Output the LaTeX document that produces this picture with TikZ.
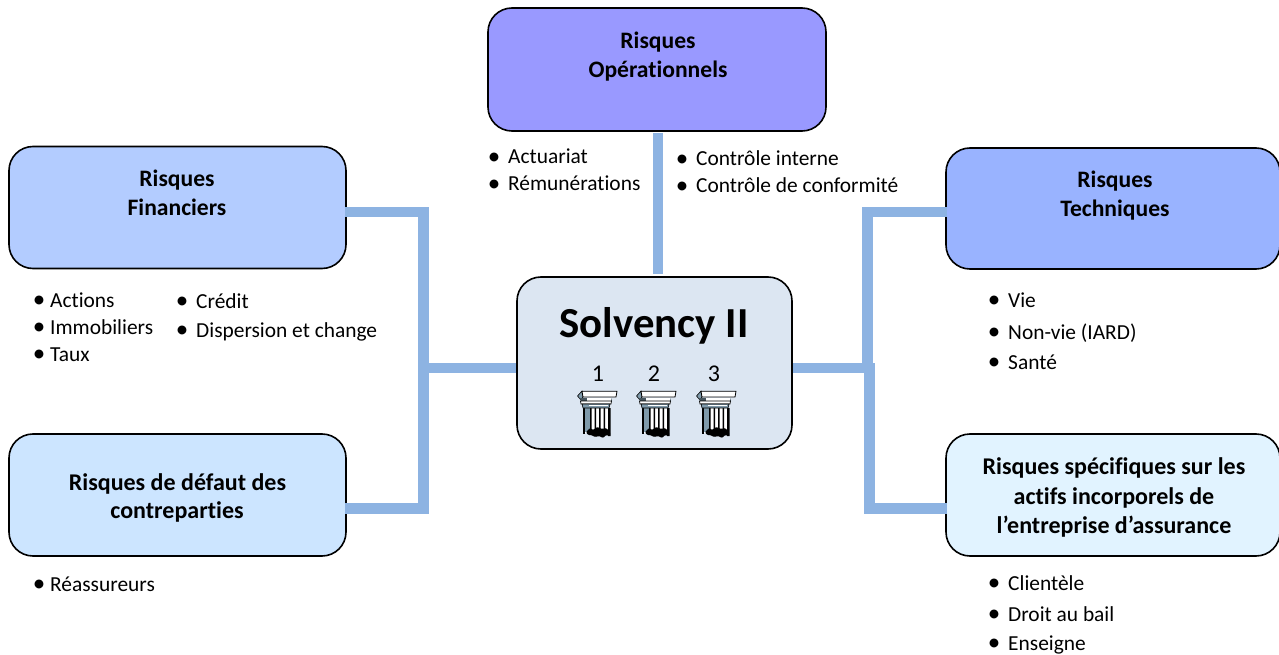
\documentclass[tikz,border=0pt]{standalone}
\usepackage{fontspec}
\setmainfont{Carlito}[Ligatures=NoCommon]
\definecolor{conn}{HTML}{8DB3E2}
\definecolor{cop}{HTML}{9999FF}
\definecolor{cfin}{HTML}{B3CCFF}
\definecolor{cdef}{HTML}{CCE5FF}
\definecolor{ctec}{HTML}{99B3FF}
\definecolor{cspe}{HTML}{E1F3FF}
\definecolor{csol}{HTML}{DCE6F2}
\definecolor{stone}{HTML}{7F9AAB}
\tikzset{
  x=1bp,y=-1bp,
  riskbox/.style={draw=black,line width=1.6bp,rounded corners=24bp,inner sep=0pt,outer sep=0pt},
  link/.style={draw=conn,line width=10.5bp,line join=miter},
  title/.style={anchor=base,font=\fontsize{23.6bp}{28bp}\selectfont\bfseries,inner sep=0pt},
  longtitle/.style={anchor=base,font=\fontsize{24bp}{28bp}\selectfont\bfseries,inner sep=0pt},
  itemtext/.style={anchor=base west,font=\fontsize{21.4bp}{26bp}\selectfont,inner sep=0pt},
  dot/.style={anchor=center,inner sep=0pt},
  num/.style={anchor=base,font=\fontsize{24bp}{28bp}\selectfont,inner sep=0pt},
  pillar/.pic={
    % shaft
    \fill[white] (6,17) rectangle (33,42);
    \fill[stone] (8,17) rectangle (13,41);
    \fill[black] (5.5,17) rectangle (8,43);
    \fill[black] (13,17) rectangle (14.5,40) (17.5,17) rectangle (19,40) (22,17) rectangle (23.5,40) (26.5,17) rectangle (28,40) (31,17) rectangle (33.5,45);
    % black base blob
    \fill[black,rounded corners=1bp] (9,41) -- (13,37) -- (16,39) -- (20,36) -- (25,38) -- (29,37) -- (33,41) -- (33,45) -- (29,44) -- (26,47) -- (22,45) -- (18,46) -- (14,44) -- (11,44) -- cycle;
    % capital
    \fill[stone,draw=black,line width=.6bp] (0.5,5) -- (5,0) -- (6,6) -- (4,9) -- cycle;
    \fill[white,draw=black,line width=.8bp] (5,0.3) -- (40,0.3) -- (39,6) -- (6,6) -- cycle;
    \fill[black!45!stone] (3,7) -- (34,7) -- (35,10) -- (4,10) -- cycle;
    \fill[white] (10,7) rectangle (34,9.5);
    \fill[white,draw=black,line width=.7bp] (3.5,10) -- (34.5,10) -- (34,13) -- (4,13) -- cycle;
    \fill[stone,draw=black,line width=.6bp] (5,13) -- (33,13) -- (32,17) -- (6,17) -- cycle;
    \fill[white] (12,13.6) rectangle (31,15);
  }
}
\newcommand{\bitem}[5]{% name, bullet x, text x, baseline, text
  \node[dot] (#1b) at (#2,#4-5.5) {\fontsize{25bp}{25bp}\selectfont •};
  \node[itemtext] (#1) at (#3,#4) {#5};
}
\begin{document}
\begin{tikzpicture}
\useasboundingbox (0,0) rectangle (1279,655);
\node[riskbox,fill=cop,minimum width=338bp,minimum height=123bp] (op) at (657,69.5) {};
\node[riskbox,fill=cfin,minimum width=337bp,minimum height=122bp] (fin) at (177.5,207.5) {};
\node[riskbox,fill=cdef,minimum width=337bp,minimum height=122bp] (def) at (177.5,495) {};
\node[riskbox,fill=ctec,minimum width=334bp,minimum height=121bp] (tec) at (1113,208.5) {};
\node[riskbox,fill=cspe,minimum width=334bp,minimum height=122bp] (spe) at (1113,495) {};
\node[riskbox,fill=csol,minimum width=275bp,minimum height=172bp] (sol) at (654.5,363) {};
\coordinate (finp) at ([xshift=-1bp]fin.east |- 0,212);
\coordinate (defp) at ([xshift=-1bp]def.east |- 0,508.5);
\coordinate (tecp) at ([xshift=.8bp]tec.west |- 0,212);
\coordinate (spep) at ([xshift=.8bp]spe.west |- 0,508.5);
\coordinate (solw) at ([xshift=-.8bp]sol.west |- 0,368);
\coordinate (sole) at ([xshift=.8bp]sol.east |- 0,368);
\coordinate (jl) at (423.5,368);
\coordinate (jr) at (867.5,368);
\coordinate (jr2) at (869.5,368);
\coordinate (opb) at ([yshift=-2bp]op.south -| 658,0);
\coordinate (solt) at ([yshift=3bp]sol.north -| 658,0);
\draw[link] (finp) -- (jl |- finp) -- (jl |- defp) -- (defp);
\draw[link] (solw) -- (jl);
\draw[link] (opb) -- (solt);
\draw[link] (tecp) -- (jr |- tecp) -- (jr |- 0,373);
\draw[link] (jr2 |- 0,363) -- (jr2 |- spep) -- (spep);
\draw[link] (sole) -- (jr2);
\node[title] (t1) at (658,49) {Risques};
\node[title] (t2) at (658,78) {Opérationnels};
\node[title] (t3) at (177,187) {Risques};
\node[title] (t4) at (177,216) {Financiers};
\node[title] (t5) at (1115,188) {Risques};
\node[title] (t6) at (1115,217) {Techniques};
\node[longtitle] (t7) at (177.5,490) {Risques de défaut des};
\node[longtitle] (t8) at (177,518) {contreparties};
\node[longtitle] (t9) at (1114,474) {Risques spécifiques sur les};
\node[longtitle] (t10) at (1114,504) {actifs incorporels de};
\node[longtitle] (t11) at (1114,533) {l’entreprise d’assurance};
\node[anchor=base,inner sep=0pt,font=\fontsize{42.8bp}{50bp}\selectfont\bfseries] (solv) at (654,337) {Solvency II};
\node[num] (n1) at (598,381) {1};
\node[num] (n2) at (654,381) {2};
\node[num] (n3) at (714,381) {3};
\pic at (577,391) {pillar};
\pic at (636,391) {pillar};
\pic at (696,391) {pillar};
\bitem{a1}{494}{508}{164}{Actuariat}
\bitem{a2}{494}{508}{191}{Rémunérations}
\bitem{b1}{682}{696}{166}{Contrôle interne}
\bitem{b2}{682}{696}{193}{Contrôle de conformité}
\bitem{c1}{39}{50}{307}{Actions}
\bitem{c2}{39}{50}{334}{Immobiliers}
\bitem{c3}{39}{50}{361}{Taux}
\bitem{d1}{182}{196}{308}{Crédit}
\bitem{d2}{182}{196}{337}{Dispersion et change}
\bitem{e1}{994}{1008}{307}{Vie}
\bitem{e2}{994}{1008}{339}{Non-vie (IARD)}
\bitem{e3}{994}{1008}{369}{Santé}
\bitem{f1}{39}{50}{591}{Réassureurs}
\bitem{g1}{994}{1008}{590}{Clientèle}
\bitem{g2}{994}{1008}{621}{Droit au bail}
\bitem{g3}{994}{1008}{650}{Enseigne}
\end{tikzpicture}
\end{document}
